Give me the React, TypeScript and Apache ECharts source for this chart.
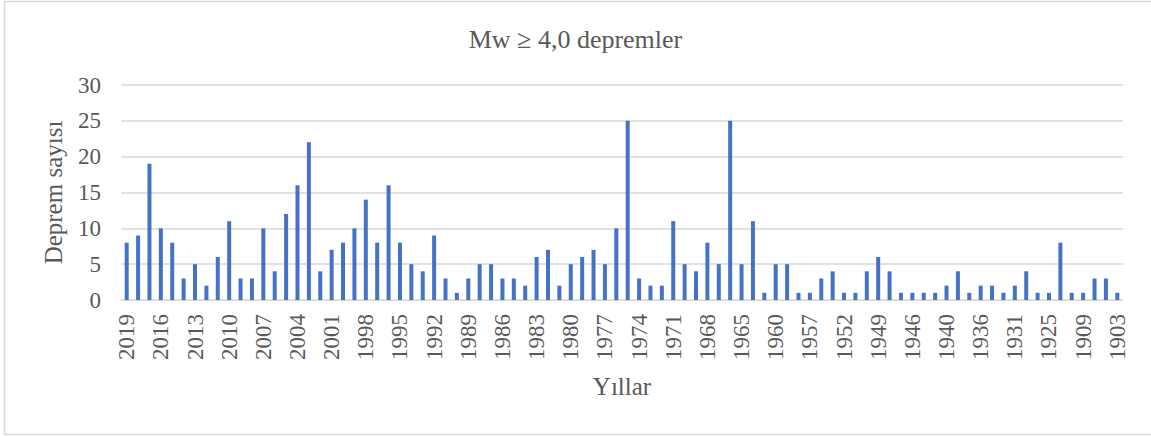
import React, { useEffect, useRef } from "react";
import * as echarts from "echarts";

const years: string[] = [
  "2019", "2018", "2017", "2016", "2015", "2014", "2013", "2012", "2011", "2010",
  "2009", "2008", "2007", "2006", "2005", "2004", "2003", "2002", "2001", "2000",
  "1999", "1998", "1997", "1996", "1995", "1994", "1993", "1992", "1991", "1990",
  "1989", "1988", "1987", "1986", "1985", "1984", "1983", "1982", "1981", "1980",
  "1979", "1978", "1977", "1976", "1975", "1974", "1973", "1972", "1971", "1970",
  "1969", "1968", "1967", "1966", "1965", "1964", "1962", "1960", "1959", "1958",
  "1957", "1955", "1953", "1952", "1951", "1950", "1949", "1948", "1947", "1946",
  "1944", "1942", "1940", "1939", "1938", "1936", "1935", "1933", "1931", "1930",
  "1928", "1925", "1924", "1912", "1909", "1908", "1905", "1903",
];

const counts: number[] = [
  8, 9, 19, 10, 8, 3, 5, 2, 6, 11,
  3, 3, 10, 4, 12, 16, 22, 4, 7, 8,
  10, 14, 8, 16, 8, 5, 4, 9, 3, 1,
  3, 5, 5, 3, 3, 2, 6, 7, 2, 5,
  6, 7, 5, 10, 25, 3, 2, 2, 11, 5,
  4, 8, 5, 25, 5, 11, 1, 5, 5, 1,
  1, 3, 4, 1, 1, 4, 6, 4, 1, 1,
  1, 1, 2, 4, 1, 2, 2, 1, 2, 4,
  1, 1, 8, 1, 1, 3, 3, 1,
];

const titleText = "Mw \u2265 4,0 depremler";
const xName = "Yıllar";
const yName = "Deprem sayısı";

export default function App() {
  const ref = useRef<HTMLDivElement>(null);
  useEffect(() => {
    document.body.style.margin = "0";
    const chart = echarts.init(ref.current!, null, { renderer: "svg" });
    const font = "'Liberation Serif', 'Times New Roman', serif";
    chart.setOption({
      animation: false,
      backgroundColor: "#ffffff",
      textStyle: { fontFamily: font },
      title: {
        text: titleText,
        left: "center",
        top: 21,
        textStyle: { fontFamily: font, fontSize: 26, fontWeight: "normal", color: "#595959" },
      },
      graphic: [
        {
          type: "rect",
          shape: { x: 4.5, y: 1.5, width: 1150, height: 433 },
          style: { fill: "none", stroke: "#d9d9d9", lineWidth: 1.5 },
          silent: true,
        },
      ],
      grid: { left: 121, right: 28, top: 85, bottom: 136, containLabel: false },
      xAxis: {
        type: "category",
        data: years,
        name: xName,
        nameLocation: "middle",
        nameGap: 74,
        nameTextStyle: { fontFamily: font, fontSize: 25, color: "#595959" },
        axisLine: { show: true, lineStyle: { color: "#d9d9d9", width: 1 } },
        axisTick: { show: false },
        axisLabel: {
          interval: 2,
          rotate: 90,
          margin: 14,
          fontFamily: font,
          fontSize: 23,
          color: "#595959",
        },
      },
      yAxis: {
        type: "value",
        min: 0,
        max: 30,
        interval: 5,
        name: yName,
        nameLocation: "middle",
        nameGap: 55,
        nameTextStyle: { fontFamily: font, fontSize: 25, color: "#595959" },
        axisLine: { show: false },
        axisTick: { show: false },
        axisLabel: { margin: 20, fontFamily: font, fontSize: 23, color: "#595959" },
        splitLine: { lineStyle: { color: "#d9d9d9", width: 1.5 } },
      },
      series: [
        {
          type: "bar",
          data: counts,
          barWidth: 4,
          itemStyle: { color: "#4472c4" },
        },
      ],
    });
    return () => chart.dispose();
  }, []);
  return (
    <div
      ref={ref}
      style={{ position: "absolute", left: 0, top: 0, width: 1151, height: 436 }}
    />
  );
}
